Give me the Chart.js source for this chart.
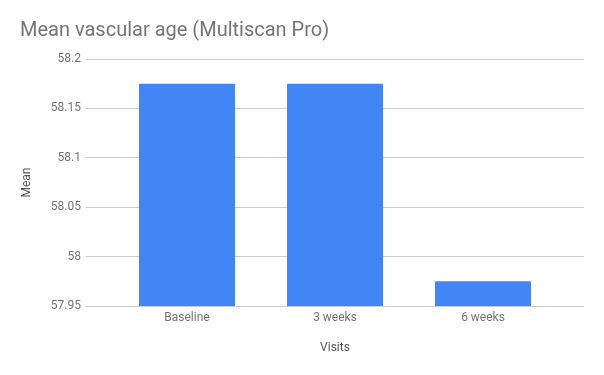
<!DOCTYPE html>
<html>
<head>
<meta charset="utf-8">
<style>
  html, body { margin: 0; padding: 0; background: #fff; }
  #wrap { width: 604px; height: 375px; }
</style>
<script src="https://cdn.jsdelivr.net/npm/chart.js@4"></script>
</head>
<body>
<div id="wrap"><canvas id="c" width="604" height="375"></canvas></div>
<script>
const categories = ["Baseline", "3 weeks", "6 weeks"];
const meanValues = [58.175, 58.175, 57.975];
const yTicks = [57.95, 58, 58.05, 58.1, 58.15, 58.2];

const ctx = document.getElementById('c').getContext('2d');
new Chart(ctx, {
  type: 'bar',
  data: {
    labels: categories,
    datasets: [{
      label: 'Mean',
      data: meanValues,
      backgroundColor: '#4285F4',
      borderWidth: 0,
      borderRadius: 1,
      categoryPercentage: 1,
      barPercentage: 96 / 148
    }]
  },
  options: {
    responsive: false,
    animation: false,
    devicePixelRatio: 1,
    layout: { padding: { left: 20, right: 20, top: 0, bottom: 0 } },
    plugins: {
      legend: { display: false },
      tooltip: { enabled: false },
      title: {
        display: true,
        text: 'Mean vascular age (Multiscan Pro)',
        align: 'start',
        color: '#757575',
        font: { family: 'Roboto', size: 20, weight: 'normal' },
        padding: { top: 19, bottom: 16 }
      }
    },
    scales: {
      x: {
        type: 'category',
        offset: true,
        grid: { display: false, drawTicks: false },
        border: { display: false },
        ticks: {
          color: '#757575',
          font: { family: 'Roboto', size: 12 },
          padding: 5,
          maxRotation: 0
        },
        title: {
          display: true,
          text: 'Visits',
          color: '#555555',
          font: { family: 'Roboto', size: 12 },
          padding: { top: 0, bottom: 20 }
        },
        afterFit: (s) => { s.height = 69; }
      },
      y: {
        position: 'left',
        min: 57.95,
        max: 58.2,
        afterBuildTicks: (s) => { s.ticks = yTicks.map(v => ({ value: v })); },
        grid: { color: '#cccccc', tickLength: 27, tickColor: '#cccccc', lineWidth: 1 },
        border: { display: false },
        ticks: {
          color: '#757575',
          font: { family: 'Roboto', size: 12 },
          padding: 5,
          callback: (v) => String(Math.round(v * 100) / 100)
        },
        title: {
          display: true,
          text: 'Mean',
          color: '#555555',
          font: { family: 'Roboto', size: 12 },
          padding: { top: 0, bottom: 0 }
        },
        afterFit: (s) => { s.width = 93; }
      },
      y2: {
        position: 'right',
        min: 57.95,
        max: 58.2,
        afterBuildTicks: (s) => { s.ticks = yTicks.map(v => ({ value: v })); },
        grid: { drawOnChartArea: false, tickLength: 27, tickColor: '#cccccc', color: '#cccccc' },
        border: { display: false },
        ticks: { display: false },
        afterFit: (s) => { s.width = 27; }
      }
    }
  }
});
</script>
</body>
</html>
